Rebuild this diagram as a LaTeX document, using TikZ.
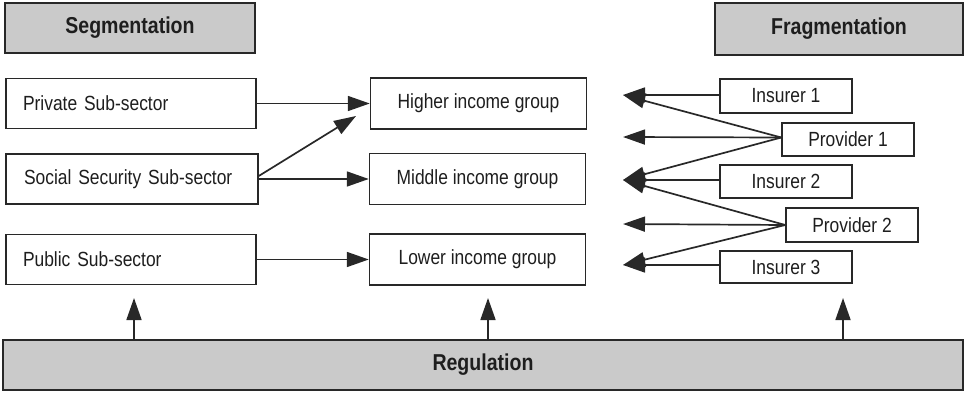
\documentclass[tikz,border=0pt]{standalone}
\usepackage{fontspec}
\setmainfont{Liberation Sans}[FakeStretch=0.85]
\usepackage{xcolor}
\usetikzlibrary{arrows.meta, positioning, calc}
\definecolor{lineColor}{RGB}{40, 40, 40}
\definecolor{textDark}{RGB}{30, 30, 30}
\definecolor{bandFill}{RGB}{202, 202, 202}

\begin{document}
\begin{tikzpicture}[x=1pt, y=-1pt]

% Style definitions
\tikzset{
    base/.style={
        rectangle, draw=lineColor, line width=1.5pt, fill=white, text=textDark,
        font=\fontsize{20.5pt}{24pt}\selectfont, align=center, inner sep=0pt
    },
    sector/.style={
        base, minimum width=250pt, minimum height=50pt, text width=216pt, align=left
    },
    income/.style={
        base, minimum width=216pt, minimum height=51pt
    },
    actor/.style={
        base, minimum width=132pt, minimum height=34pt
    },
    band/.style={
        base, fill=bandFill, line width=2pt, font=\fontsize{23pt}{26pt}\selectfont\bfseries
    },
    wire/.style={
        draw=lineColor, line width=1.7pt, -{Triangle[length=22pt, width=15pt]}
    }
}

\useasboundingbox (0,0) rectangle (965,393);

% Headers
\node (seg) [band, minimum width=250pt, minimum height=50pt] at (130,28) {Segmentation};
\node (frag) [band, minimum width=248pt, minimum height=52pt] at (839,29) {Fragmentation};

% Sub-sectors
\node (private) [sector] at (131,103.5) {Private Sub-sector};
\node (social) [sector, minimum width=252pt, below=24pt of private.south west, anchor=north west] {Social Security Sub-sector};
\node (public) [sector, below=29pt of social.south west, anchor=north west] {Public Sub-sector};

% Income groups
\node (higher) [income, right=113pt of private] {Higher income group};
\node (middle) [income, right=110pt of social] {Middle income group};
\node (lower) [income, right=112pt of public] {Lower income group};

% Insurers / providers
\node (ins1) [actor] at (786,96) {Insurer 1};
\node (prov1) [actor, minimum height=33pt] at (848,139.5) {Provider 1};
\node (ins2) [actor, minimum height=33pt] at (786,181.5) {Insurer 2};
\node (prov2) [actor] at (852,225) {Provider 2};
\node (ins3) [actor, minimum height=32pt] at (786,267) {Insurer 3};

% Regulation
\node (reg) [band, minimum width=960pt, minimum height=50pt] at (483,365) {Regulation};

% Connections
\draw [wire] (private) -- (higher);
\draw [wire] (social) -- (middle);
\draw [wire] (public) -- (lower);
\coordinate (diag_end) at (356,116);
\draw [wire] ($(social.east)+(0,-3)$) -- (diag_end);

\coordinate (hi_end) at (623,95);
\coordinate (gap_a) at (623,137);
\coordinate (mid_end) at (623,180);
\coordinate (gap_b) at (623,224);
\coordinate (lo_end) at (623,265);
\coordinate (prov1_in) at ($(prov1.west)+(0,-2)$);

\draw [wire] (ins1.west |- hi_end) -- (hi_end);
\draw [wire] (prov1_in) -- (hi_end);
\draw [wire] (prov1_in) -- (gap_a);
\draw [wire] (prov1_in) -- (mid_end);
\draw [wire] (ins2.west |- mid_end) -- (mid_end);
\draw [wire] (prov2.west) -- (mid_end);
\draw [wire] (prov2.west) -- (gap_b);
\draw [wire] (prov2.west) -- (lo_end);
\draw [wire] (ins3.west |- lo_end) -- (lo_end);

% Regulation acts on all three
\coordinate (up_a) at (134,298);
\coordinate (up_b) at (488,298);
\coordinate (up_c) at (843,298);
\draw [wire] (reg.north -| up_a) -- (up_a);
\draw [wire] (reg.north -| up_b) -- (up_b);
\draw [wire] (reg.north -| up_c) -- (up_c);

\end{tikzpicture}
\end{document}
